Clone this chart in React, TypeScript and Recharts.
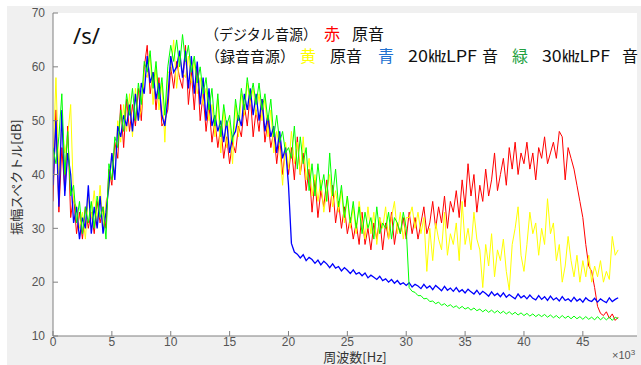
import React from 'react';
import { LineChart, Line, XAxis, YAxis, CartesianGrid } from 'recharts';

// 0 .. 48 kHz, 0.25 kHz per sample (x axis is in units of 10^3 Hz)
const STEP = 0.25;

const xTicks = [0, 5, 10, 15, 20, 25, 30, 35, 40, 45];
const yTicks = [10, 20, 30, 40, 50, 60, 70];

// デジタル音源 原音 (red)
const red = [
  35, 52, 33, 45, 37, 49, 32, 36,
  29, 33, 28, 34, 30, 33, 29, 35,
  31, 34, 30, 41, 38, 46, 43, 53,
  45, 54, 48, 53, 49, 56, 50, 60,
  64, 55, 59, 52, 58, 49, 50, 52,
  60, 56, 61, 58, 56, 64, 53, 59,
  52, 60, 50, 55, 48, 53, 46, 50,
  45, 49, 43, 47, 42, 46, 44, 49,
  47, 53, 49, 55, 47, 52, 48, 54,
  46, 50, 45, 48, 42, 47, 40, 45,
  40, 45, 39, 47, 40, 44, 37, 41,
  33, 39, 32, 37, 34, 39, 33, 38,
  31, 35, 30, 34, 29, 32, 28, 31,
  27, 33, 27, 30, 26, 31, 28, 32,
  26, 31, 28, 33, 27, 31, 29, 32,
  28, 33, 29, 32, 28, 31, 34, 29,
  31, 35, 30, 34, 31, 36, 30, 35,
  33, 37, 32, 39, 34, 42, 36, 40,
  33, 38, 35, 41, 36, 39, 44, 37,
  40, 43, 38, 45, 41, 46, 40, 44,
  42, 46, 41, 44, 39, 45, 43, 47,
  42, 44, 46, 43, 48, 47, 39, 45,
  43, 41, 38, 35, 32, 27, 23, 22,
  19, 15.5, 14.2, 13.8, 14.5, 13.3, 14.1, 12.9,
  13.5,
];

// 録音音源 原音 (yellow)
const yellow = [
  42, 58, 40, 50, 44, 47, 53, 35,
  34, 30, 33, 28, 36, 32, 37, 31,
  38, 30, 35, 37, 44, 40, 50, 46,
  53, 48, 55, 47, 56, 50, 52, 59,
  58, 62, 53, 60, 52, 57, 46, 59,
  59, 65, 56, 62, 59, 58, 62, 57,
  61, 55, 58, 53, 56, 50, 53, 47,
  54, 44, 52, 45, 50, 42, 53, 47,
  55, 51, 57, 53, 56, 51, 55, 50,
  54, 47, 52, 44, 48, 45, 38, 46,
  41, 48, 42, 46, 40, 47, 39, 43,
  36, 40, 35, 39, 33, 37, 40, 34,
  37, 33, 37, 31, 36, 30, 34, 29,
  35, 31, 28, 34, 29, 33, 27, 32,
  30, 34, 28, 32, 35, 29, 33, 28,
  32, 32, 34, 30, 33, 29, 32, 22,
  30, 24, 31, 28, 26, 33, 25, 29,
  27, 31, 24, 35, 27, 30, 26, 33,
  28, 26, 19, 27, 23, 29, 21, 26,
  24, 28, 22, 18.5, 27, 30, 34, 25,
  22, 27, 33, 29, 31, 25, 30, 27,
  35.5, 29, 31, 24, 27, 20, 23, 28.5,
  24, 21, 25, 20, 24, 21, 25, 20,
  23, 21, 24, 20, 22, 20.5, 28.5, 25,
  26,
];

// 録音音源 20kHzLPF 音 (blue)
const blue = [
  38, 50, 34, 52, 36, 44, 40, 31,
  34, 28, 32, 30, 38, 29, 34, 30,
  36, 29, 33, 38, 44, 39, 49, 47,
  51, 49, 53, 48, 55, 50, 57, 55,
  62, 57, 59, 54, 57, 51, 49, 54,
  62, 59, 60, 63, 58, 63, 56, 62,
  55, 61, 53, 58, 50, 56, 49, 51,
  48, 50, 46, 50, 44, 47, 48, 51,
  49, 55, 52, 56, 51, 55, 50, 54,
  48, 51, 47, 49, 44, 48, 43, 45,
  38, 27.2, 25.6, 25.2, 24.5, 25.1, 24.0, 24.6,
  24.2, 23.5, 24.1, 23.2, 23.9, 23.4, 22.7, 23.4,
  22.6, 22.9, 22.1, 22.7, 22.2, 21.6, 22.3, 21.5,
  21.8, 21.2, 21.7, 20.8, 21.3, 20.9, 20.5, 21.1,
  20.3, 20.6, 20.0, 20.5, 19.8, 20.3, 19.6, 19.9,
  19.4, 19.9, 19.1, 19.6, 19.3, 18.8, 19.6, 18.9,
  19.3, 18.6, 19.4, 18.9, 18.4, 19.2, 18.5, 18.9,
  18.3, 19.0, 18.2, 18.6, 18.0, 18.7, 18.2, 17.8,
  18.5, 17.7, 18.3, 17.9, 17.4, 18.2, 17.5, 17.9,
  17.3, 18.0, 17.2, 17.7, 17.3, 16.9, 17.8, 17.1,
  17.5, 16.9, 17.6, 17.0, 16.7, 17.5, 16.8, 17.3,
  16.6, 17.4, 16.7, 17.1, 16.5, 17.3, 16.6, 16.9,
  16.4, 17.2, 16.5, 16.9, 16.3, 17.1, 16.6, 16.4,
  17.0, 16.3, 16.9, 16.5, 16.2, 17.1, 16.4, 16.8,
  17.1,
];

// 録音音源 30kHzLPF 音 (green)
const green = [
  45, 42, 47, 55, 40, 48, 36, 38,
  31, 35, 29, 34, 31, 35, 30, 36,
  32, 34, 28, 42, 39, 47, 45, 52,
  48, 55, 51, 56, 50, 57, 53, 61,
  59, 63, 56, 61, 54, 58, 51, 60,
  64, 61, 65, 60, 66, 61, 64, 59,
  62, 57, 60, 55, 58, 52, 56, 49,
  55, 47, 53, 49, 51, 46, 54, 50,
  56, 52, 58, 54, 57, 53, 57, 52,
  55, 50, 54, 47, 51, 46, 48, 44,
  45, 43, 49, 41, 47, 42, 45, 37,
  42, 36, 42, 37, 40, 35, 44, 36,
  41, 34, 38, 32, 36, 31, 35, 30,
  34, 29, 33, 30, 32, 28, 34, 29,
  31, 30, 33, 28, 32, 31, 29, 33,
  30, 19.0, 18.3, 18.1, 17.5, 17.5, 16.9, 17.0,
  16.4, 16.5, 16.0, 16.3, 15.7, 16.0, 15.5, 15.8,
  15.3, 15.6, 15.1, 15.5, 15.0, 15.3, 14.8, 15.2,
  14.7, 15.0, 14.5, 14.9, 14.4, 14.8, 14.3, 14.7,
  14.2, 14.6, 14.1, 14.5, 14.0, 14.4, 13.9, 14.3,
  13.8, 14.2, 13.7, 14.1, 13.6, 14.0, 13.6, 14.0,
  13.5, 13.9, 13.4, 13.8, 13.3, 13.8, 13.3, 13.7,
  13.2, 13.7, 13.2, 13.6, 13.1, 13.6, 13.1, 13.5,
  13.0, 13.6, 13.0, 13.5, 13.0, 13.5, 12.9, 13.5,
  13.2,
];

const data = red.map((r, i) => ({
  f: i * STEP,
  red: r,
  yellow: yellow[i],
  blue: blue[i],
  green: green[i],
}));

const tickFont = { fill: '#555', fontSize: 12, fontFamily: '"Liberation Sans", Arial, sans-serif' };
const jp = '"Noto Sans CJK JP", sans-serif';

export default function App() {
  return (
    <div style={{ position: 'absolute', left: 0, top: 0, width: 641, height: 365, background: '#fff' }}>
      <div style={{ position: 'absolute', left: 7, top: 6, width: 634, height: 359, background: '#f0f0f0' }} />
      <div style={{ position: 'absolute', left: 0, top: 0 }}>
        <LineChart width={641} height={365} data={data} margin={{ top: 13, right: 4, bottom: 0, left: 0 }}>
          <CartesianGrid horizontal={false} vertical={false} fill="#fff" xAxisId="b" yAxisId="l" />
          <XAxis
            xAxisId="b"
            dataKey="f"
            type="number"
            domain={[0, 49.6]}
            ticks={xTicks}
            interval={0}
            allowDataOverflow
            height={29}
            tickSize={-5}
            tickMargin={6}
            stroke="#808080"
            tick={tickFont}
          />
          <XAxis
            xAxisId="t"
            orientation="top"
            type="number"
            domain={[0, 49.6]}
            ticks={xTicks}
            interval={0}
            allowDataOverflow
            height={0}
            tickSize={-5}
            tick={false}
            stroke="#808080"
          />
          <YAxis
            yAxisId="l"
            type="number"
            domain={[10, 70]}
            ticks={yTicks}
            interval={0}
            allowDataOverflow
            width={53}
            tickSize={-5}
            tickMargin={13}
            stroke="#808080"
            tick={tickFont}
          />
          <YAxis
            yAxisId="r"
            orientation="right"
            type="number"
            domain={[10, 70]}
            ticks={yTicks}
            interval={0}
            allowDataOverflow
            width={0}
            tickSize={-5}
            tick={false}
            stroke="#808080"
          />
          <Line xAxisId="b" yAxisId="l" type="linear" dataKey="red" stroke="#ff0000" strokeWidth={1} dot={false} isAnimationActive={false} />
          <Line xAxisId="b" yAxisId="l" type="linear" dataKey="yellow" stroke="#ffff00" strokeWidth={1} dot={false} isAnimationActive={false} />
          <Line xAxisId="b" yAxisId="l" type="linear" dataKey="blue" stroke="#0000ff" strokeWidth={1.3} dot={false} isAnimationActive={false} />
          <Line xAxisId="b" yAxisId="l" type="linear" dataKey="green" stroke="#00ff00" strokeWidth={1} dot={false} isAnimationActive={false} />
        </LineChart>
      </div>
      <svg width={641} height={365} style={{ position: 'absolute', left: 0, top: 0, pointerEvents: 'none' }}>
        <text x={73} y={44} fontSize={22} fontFamily='"Noto Sans", sans-serif' fill="#111">/s/</text>
        <g fontFamily={jp} fontSize={16} fill="#111">
          <text x={205} y={40} fontSize={14.5} textLength={112} lengthAdjust="spacingAndGlyphs">（デジタル音源）</text>
          <text x={324} y={40} fill="#ff0000">赤</text>
          <text x={352} y={40}>原音</text>
          <text x={205} y={62} fontSize={15}>（録音音源）</text>
          <text x={300} y={62} fill="#ffff00">黄</text>
          <text x={330} y={62}>原音</text>
          <text x={378} y={62} fill="#2070d0">青</text>
          <text x={408} y={62} textLength={69} lengthAdjust="spacingAndGlyphs">20㎑LPF</text>
          <text x={482} y={62}>音</text>
          <text x={512} y={62} fill="#22a040">緑</text>
          <text x={542} y={62} textLength={68} lengthAdjust="spacingAndGlyphs">30㎑LPF</text>
          <text x={622} y={62}>音</text>
        </g>
        <text
          x={17}
          y={177}
          textAnchor="middle"
          dominantBaseline="middle"
          transform="rotate(-90 17 177)"
          fontSize={13}
          fontFamily={jp}
          fill="#333"
        >
          振幅スペクトル[dB]
        </text>
        <text x={612} y={359} fontSize={11} fontFamily='"Liberation Sans", Arial, sans-serif' fill="#555">
          ×10<tspan dy={-4} fontSize={8}>3</tspan>
        </text>
      </svg>
      <div
        style={{
          position: 'absolute',
          left: 290,
          top: 351,
          width: 130,
          height: 12,
          lineHeight: '12px',
          fontSize: 13,
          fontFamily: jp,
          color: '#333',
          textAlign: 'center',
          whiteSpace: 'nowrap',
        }}
      >
        周波数[Hz]
      </div>
    </div>
  );
}
